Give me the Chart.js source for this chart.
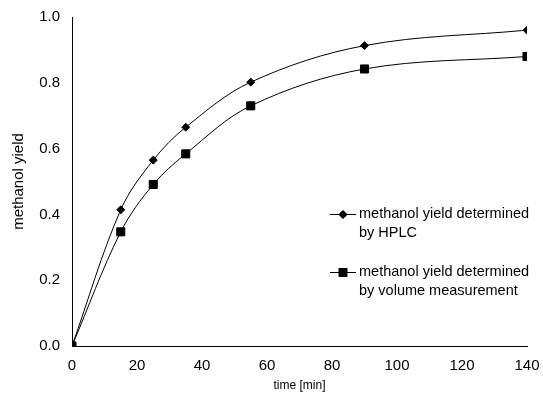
<!DOCTYPE html>
<html>
<head>
<meta charset="utf-8">
<script src="https://cdn.jsdelivr.net/npm/chart.js@4.4.1/dist/chart.umd.min.js"></script>
<style>
html,body{margin:0;padding:0;background:#fff;}
#wrap{width:543px;height:398px;position:relative;}
</style>
</head>
<body>
<div id="wrap"><canvas id="c" width="543" height="398"></canvas></div>
<script>
const timeMin = [0, 15, 25, 35, 55, 90, 140];
const yieldHPLC = [0, 0.414, 0.565, 0.665, 0.802, 0.913, 0.960];
const yieldVolume = [0, 0.347, 0.491, 0.584, 0.730, 0.842, 0.880];
const seriesLabels = [
  ['methanol yield determined', 'by HPLC'],
  ['methanol yield determined', 'by volume measurement']
];
const xTitle = 'time [min]';
const yTitle = 'methanol yield';

const FONT = "'Liberation Sans', Arial, sans-serif";

const legendPlugin = {
  id: 'insideLegend',
  afterDraw(chart) {
    const ctx = chart.ctx;
    const rows = [214, 272];
    ctx.save();
    chart.data.datasets.forEach((ds, i) => {
      const y = rows[i];
      ctx.strokeStyle = '#000';
      ctx.lineWidth = 1;
      ctx.beginPath();
      ctx.moveTo(330, y + 0.5);
      ctx.lineTo(356, y + 0.5);
      ctx.stroke();
      ctx.fillStyle = '#000';
      Chart.helpers.drawPoint(ctx, {pointStyle: ds.pointStyle, radius: ds.pointRadius, borderWidth: 1}, 343, y + 0.5);
      ctx.fill();
      ctx.font = '14.5px ' + FONT;
      ctx.textBaseline = 'middle';
      ctx.textAlign = 'left';
      seriesLabels[i].forEach((t, k) => ctx.fillText(t, 359, y + k * 19));
    });
    ctx.restore();
  }
};

new Chart(document.getElementById('c'), {
  type: 'line',
  data: {
    datasets: [
      {
        label: seriesLabels[0].join(' '),
        data: timeMin.map((t, i) => ({x: t, y: yieldHPLC[i]})),
        borderColor: '#000', backgroundColor: '#000', borderWidth: 1,
        pointStyle: 'rectRot', pointRadius: 4, pointHoverRadius: 4,
        tension: 0.35, fill: false
      },
      {
        label: seriesLabels[1].join(' '),
        data: timeMin.map((t, i) => ({x: t, y: yieldVolume[i]})),
        borderColor: '#000', backgroundColor: '#000', borderWidth: 1,
        pointStyle: 'rect', pointRadius: 5.7, pointHoverRadius: 5.7,
        tension: 0.35, fill: false
      }
    ]
  },
  options: {
    responsive: false,
    animation: false,
    events: [],
    layout: {padding: {top: 17, right: 16, left: 10, bottom: 0}},
    plugins: {legend: {display: false}, tooltip: {enabled: false}},
    scales: {
      x: {
        type: 'linear', min: 0, max: 140,
        border: {color: '#000', width: 1},
        grid: {display: false, drawOnChartArea: false, drawTicks: true, tickLength: 4, tickColor: '#000'},
        ticks: {stepSize: 20, color: '#000', font: {family: FONT, size: 15}, padding: 7, maxRotation: 0},
        title: {display: true, text: xTitle, color: '#000', font: {family: FONT, size: 12}, padding: {top: 4, bottom: 5}},
        afterFit(s) { s.height = 52; s.paddingRight = 0; s.paddingLeft = 0; }
      },
      y: {
        type: 'linear', min: 0, max: 1,
        border: {color: '#000', width: 1},
        grid: {display: false, drawOnChartArea: false, drawTicks: true, tickLength: 4, tickColor: '#000'},
        ticks: {stepSize: 0.2, color: '#000', font: {family: FONT, size: 15}, padding: 8, callback: v => v.toFixed(1)},
        title: {display: true, text: yTitle, color: '#000', font: {family: FONT, size: 15}, padding: {top: 0, bottom: 4}},
        afterFit(s) { s.width = 62; s.paddingTop = 0; s.paddingBottom = 0; }
      }
    }
  },
  plugins: [legendPlugin]
});
</script>
</body>
</html>
